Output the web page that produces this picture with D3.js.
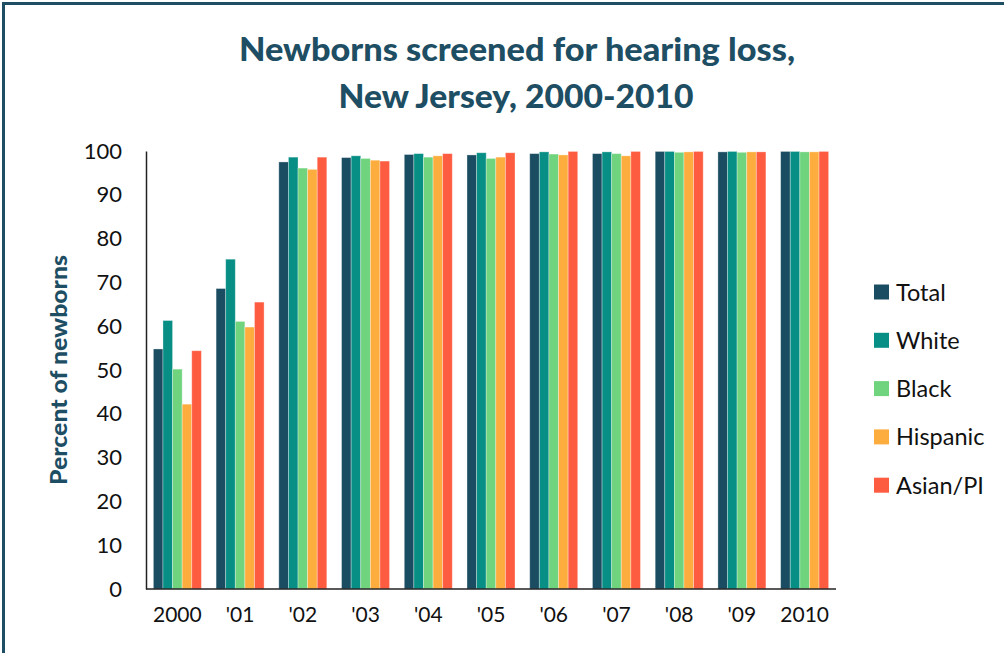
<!DOCTYPE html>
<html>
<head>
<meta charset="utf-8">
<script src="https://cdn.jsdelivr.net/npm/d3@7"></script>
<style>
  body { margin: 0; background: #fff; }
  svg { display: block; font-family: Lato, "Open Sans", sans-serif; }
</style>
</head>
<body>
<div id="chart"></div>
<script>
const years = ["2000", "'01", "'02", "'03", "'04", "'05", "'06", "'07", "'08", "'09", "2010"];
const seriesNames = ["Total", "White", "Black", "Hispanic", "Asian/PI"];
const total    = [54.8, 68.6, 97.5, 98.5, 99.2, 99.1, 99.4, 99.4, 99.9, 99.8, 99.9];
const white    = [61.3, 75.3, 98.6, 98.9, 99.4, 99.6, 99.8, 99.8, 99.9, 99.9, 99.9];
const black    = [50.2, 61.1, 96.1, 98.3, 98.6, 98.3, 99.3, 99.4, 99.7, 99.7, 99.8];
const hispanic = [42.2, 59.8, 95.8, 97.9, 98.9, 98.6, 99.1, 98.9, 99.8, 99.8, 99.8];
const asianPI  = [54.4, 65.5, 98.6, 97.7, 99.4, 99.6, 99.9, 99.9, 99.9, 99.8, 99.9];
const yTicks = [0, 10, 20, 30, 40, 50, 60, 70, 80, 90, 100];

const colors = ["#1b4d62", "#078f85", "#70d47e", "#fcad3d", "#fe5c40"];
const seriesValues = [total, white, black, hispanic, asianPI];

const W = 1004, H = 653;
const svg = d3.select("#chart").append("svg")
    .attr("width", W)
    .attr("height", H);

// outer frame
svg.append("rect")
    .attr("x", 3.5).attr("y", 3.5)
    .attr("width", W + 10).attr("height", H + 10)
    .attr("fill", "none")
    .attr("stroke", "#1d4e63")
    .attr("stroke-width", 3);

// title
const title = svg.append("text")
    .attr("text-anchor", "middle")
    .attr("fill", "#1d4e63")
    .style("font-weight", "900")
    .style("font-size", "32px");
title.append("tspan").attr("x", 517).attr("y", 61)
    .attr("textLength", 556).attr("lengthAdjust", "spacingAndGlyphs")
    .text("Newborns screened for hearing loss,");
title.append("tspan").attr("x", 516).attr("y", 108)
    .attr("textLength", 355).attr("lengthAdjust", "spacingAndGlyphs")
    .text("New Jersey, 2000-2010");

const plotLeft = 146, plotRight = 836, plotTop = 151, plotBottom = 589;

const x0 = d3.scaleBand()
    .domain(years)
    .range([plotLeft, plotRight])
    .paddingInner(0.235)
    .paddingOuter(0.1175);

const x1 = d3.scaleBand()
    .domain(seriesNames)
    .range([0, x0.bandwidth()]);

const y = d3.scaleLinear()
    .domain([0, 100])
    .range([plotBottom, plotTop]);

// bars
const groups = svg.selectAll(".grp")
    .data(years)
    .enter()
    .append("g")
    .attr("class", "grp")
    .attr("transform", d => `translate(${x0(d)},0)`);

groups.selectAll("rect")
    .data((d, i) => seriesNames.map((s, j) => ({ s: s, v: seriesValues[j][i], c: colors[j] })))
    .enter()
    .append("rect")
    .attr("x", d => x1(d.s))
    .attr("y", d => y(d.v))
    .attr("width", x1.bandwidth())
    .attr("height", d => y(0) - y(d.v))
    .attr("fill", d => d.c)
    .attr("stroke", "rgba(255,255,255,0.4)")
    .attr("stroke-width", 0.8);

// y axis
const yAxis = svg.append("g")
    .attr("transform", `translate(${plotLeft},0)`)
    .call(d3.axisLeft(y).tickValues(yTicks).tickSize(0).tickPadding(24));
yAxis.select(".domain").attr("stroke", "#222").attr("stroke-width", 1.5);
yAxis.selectAll("text")
    .style("font-size", "22px")
    .style("font-family", "Lato, 'Open Sans', sans-serif")
    .attr("fill", "#111");

// x axis
const xAxis = svg.append("g")
    .attr("transform", `translate(0,${plotBottom})`)
    .call(d3.axisBottom(x0).tickSize(0).tickPadding(18));
xAxis.select(".domain")
    .attr("d", `M${plotLeft},0H${plotRight}`)
    .attr("stroke", "#222").attr("stroke-width", 1.5);
xAxis.selectAll("text")
    .style("font-size", "21px")
    .style("font-family", "Lato, 'Open Sans', sans-serif")
    .attr("fill", "#111");

// y axis title
svg.append("text")
    .attr("transform", "translate(67,370) rotate(-90)")
    .attr("text-anchor", "middle")
    .attr("fill", "#1d4e63")
    .style("font-weight", "900")
    .style("font-size", "22px")
    .attr("textLength", 230).attr("lengthAdjust", "spacingAndGlyphs")
    .text("Percent of newborns");

// legend
const legend = svg.append("g")
    .attr("transform", "translate(874,292)");
const items = legend.selectAll(".item")
    .data(seriesNames)
    .enter()
    .append("g")
    .attr("class", "item")
    .attr("transform", (d, i) => `translate(0,${i * 48.3})`);
items.append("rect")
    .attr("x", 0).attr("y", -7.5)
    .attr("width", 15).attr("height", 15)
    .attr("fill", (d, i) => colors[i]);
items.append("text")
    .attr("x", 22).attr("y", 8.5)
    .style("font-size", "23.5px")
    .attr("fill", "#111")
    .text(d => d);
</script>
</body>
</html>
